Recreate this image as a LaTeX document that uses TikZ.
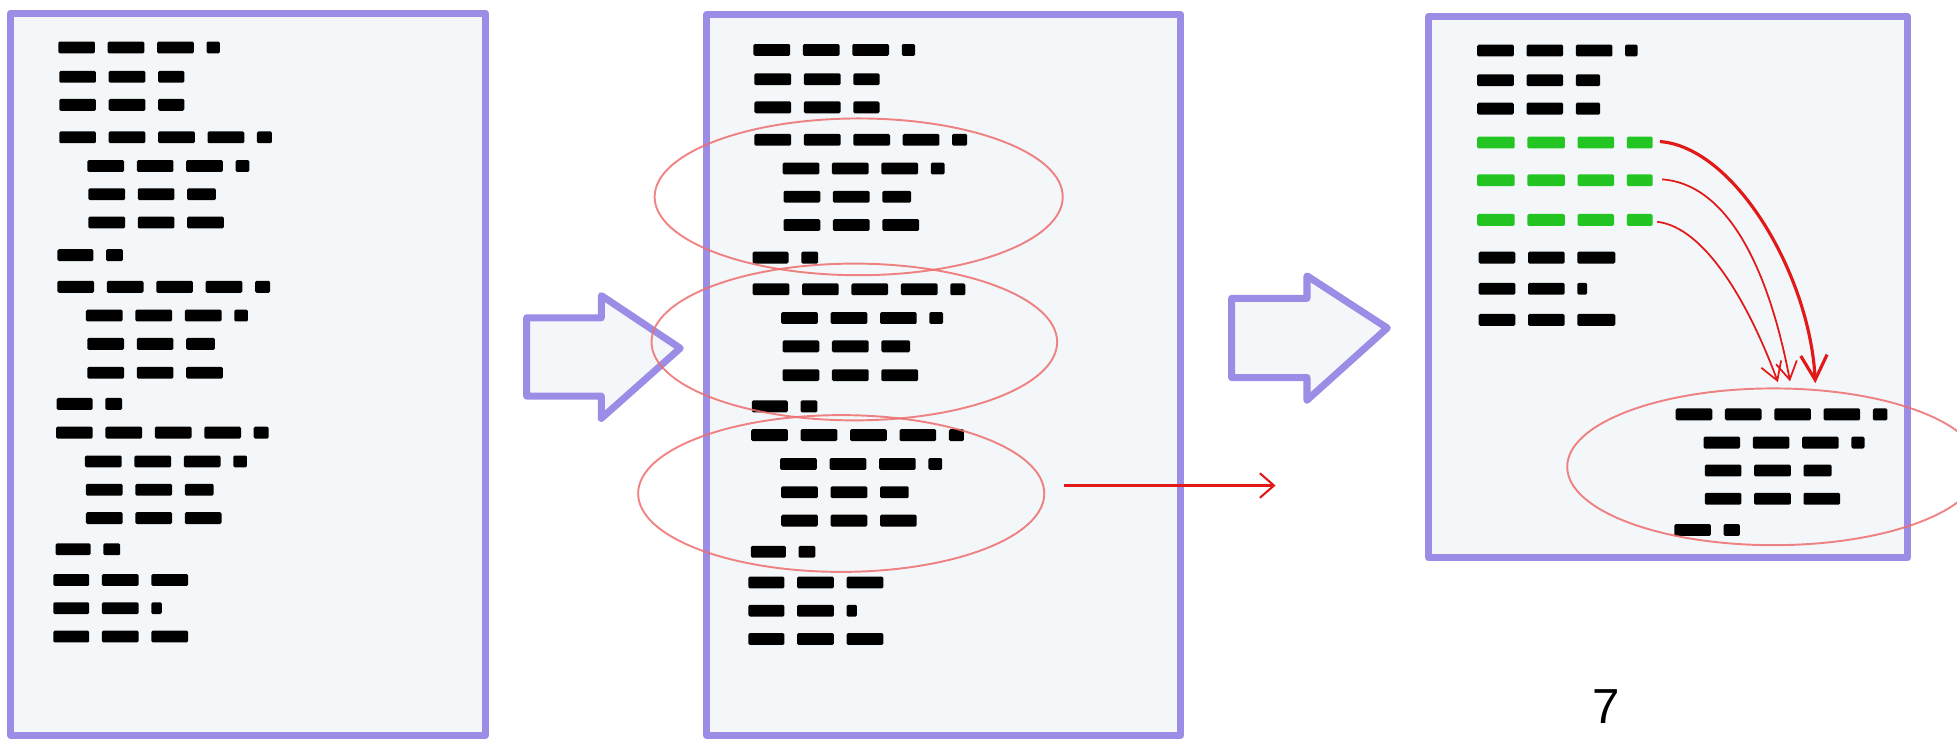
\documentclass[tikz,border=0pt]{standalone}
\usepackage{xcolor}
\usepackage{fontspec}
\setmainfont{Liberation Sans}
\usepackage{tikz}
\usetikzlibrary{shapes.geometric,arrows.meta}

\definecolor{framepurple}{RGB}{155,140,230}
\definecolor{pagefill}{RGB}{244,247,249}
\definecolor{hoopred}{RGB}{238,110,110}
\definecolor{flowred}{RGB}{225,25,25}
\definecolor{codegreen}{RGB}{34,197,34}

\newcommand{\unitpx}{0.01248cm}
% one line of code: a row of bars, #2 = start x, #3 = y, #4 = bar widths
\newcommand{\codeline}[4][black]{%
  \xdef\barx{#2}%
  \foreach \w in {#4} {
    \fill[#1, rounded corners=0.4pt] (\barx,#3-4.75) rectangle ++(\w,9.5);
    \pgfmathsetmacro{\nextx}{\barx+\w+10.2}
    \xdef\barx{\nextx}
  }%
}
% the whole listing of the first page
\newcommand{\codepage}{%
  \codeline{46.7}{38}{29.4,29.4,29.4,10.7}
  \codeline{47.5}{61.5}{29.4,29.4,21}
  \codeline{47.5}{84}{29.4,29.4,21}
  \codeline{47.5}{110}{29.4,29.4,29.4,29.4,12}
  \codeline{70}{133}{29.4,29.4,29.4,11}
  \codeline{70.8}{155.6}{29.4,29.4,23}
  \codeline{70.8}{178.3}{29.4,29.4,29.4}
  \codeline{46}{204.4}{28.8,13.5}
  \codeline{46}{229.8}{29.4,29.4,29.4,29.4,12}
  \codeline{68.9}{252.8}{29.4,29.4,29.4,11}
  \codeline{70}{275.5}{29.4,29.4,23}
  \codeline{70}{298.6}{29.4,29.4,29.4}
  \codeline{45.4}{323.6}{28.8,13.5}
  \codeline{44.9}{346.6}{29.4,29.4,29.4,29.4,12}
  \codeline{68.1}{369.7}{29.4,29.4,29.4,11}
  \codeline{68.9}{392.4}{29.4,29.4,23}
  \codeline{68.9}{415.1}{29.4,29.4,29.4}
  \codeline{44.6}{440.1}{28,13.5}
  \codeline{42.7}{464.7}{28.8,29.4,29.4}
  \codeline{42.7}{487.3}{28.8,29.4,8.3}
  \codeline{42.7}{510}{28.8,29.4,29.4}
}

\begin{document}
\begin{tikzpicture}[x=0.01248cm, y=-0.01248cm,
    sheet/.style={draw=framepurple, line width=2pt, fill=pagefill, line join=round},
    blockarrow/.style={draw=framepurple, line width=2pt, fill=pagefill, line join=round},
    hoop/.style={ellipse, draw=hoopred, draw opacity=0.85, line width=0.55pt, inner sep=0pt},
    flow/.style={draw=flowred, -{Straight Barb[length=5pt,width=6pt]}}]
    \useasboundingbox (0,0) rectangle (1568,593);
    \clip (0,0) rectangle (1568,593);

    % Original page
    \draw[sheet] (8.5,10.6) rectangle (389,589);
    \codepage

    % Page with the repeated blocks marked
    \draw[blockarrow] (422,254.6) -- (481.8,254.6) -- (481.8,236.8) -- (545,279)
        -- (481.8,335.2) -- (481.8,317.4) -- (422,317.4) -- cycle;
    \draw[sheet] (566,11.6) rectangle (946,589);
    \begin{scope}[shift={(557,2)}]
        \codepage
    \end{scope}
    \node[hoop, minimum width=327*\unitpx, minimum height=125.6*\unitpx] (e1) at (688,157.7) {};
    \node[hoop, minimum width=325*\unitpx, minimum height=125.6*\unitpx] (e2) at (684.5,274) {};
    \node[hoop, minimum width=325.4*\unitpx, minimum height=125.6*\unitpx] (e3) at (674,395.4) {};
    \coordinate (cutout) at (1022,389);
    \draw[flow, line width=0.6pt, -{Straight Barb[length=4pt,width=7pt]}] (e3.east) ++(15,-6.4) -- (cutout);

    % Page after the extraction
    \draw[blockarrow] (986.8,239) -- (1047.2,239) -- (1047.2,221) -- (1111.5,262.8)
        -- (1047.2,320.6) -- (1047.2,302.5) -- (986.8,302.5) -- cycle;
    \draw[sheet] (1144.7,13.2) rectangle (1528.5,447);
    \codeline{1183.6}{40.5}{29.3,29.3,29.3,10}
    \codeline{1183.6}{64.3}{29.3,29.3,19.5}
    \codeline{1183.6}{87}{29.3,29.3,19.5}
    \foreach \y in {114.2,144.4,176.2} {
        \codeline[codegreen]{1183.6}{\y}{30,30,29.2,20.7}
    }
    \codeline{1184.8}{206.4}{29.3,29.3,30.4}
    \codeline{1184.8}{231.4}{29.3,29.3,7.8}
    \codeline{1184.8}{256.3}{29.3,29.3,30.4}
    % extracted block
    \codeline{1342.6}{332}{29.3,29.3,29.3,29.3,11.7}
    \codeline{1364.9}{354.6}{29.3,29.3,29.3,10.5}
    \codeline{1366}{377}{29.3,29.3,22.5}
    \codeline{1366}{399.6}{29.3,29.3,29.3}
    \codeline{1341.5}{424.6}{29.3,13}
    \node[hoop, minimum width=330.6*\unitpx, minimum height=125.6*\unitpx] (e4) at (1421,374) {};

    \coordinate (g1) at (1330,113.4);
    \coordinate (g2) at (1331.7,143.7);
    \coordinate (g3) at (1327.8,177.7);
    \coordinate (t1) at (1454.5,307);
    \coordinate (t2) at (1434.2,305.5);
    \coordinate (t3) at (1424.5,306.2);
    \draw[flow, line width=0.9pt, -{Straight Barb[length=7pt,width=7.5pt]}] (g1) .. controls (1390,118) and (1450,220) .. (t1);
    \draw[flow, line width=0.5pt] (g2) .. controls (1390,148) and (1420,230) .. (t2);
    \draw[flow, line width=0.5pt] (g3) .. controls (1365,182) and (1400,240) .. (t3);

    \node[font=\fontsize{14}{16}\selectfont] (pagenum) at (1287,566) {7};
\end{tikzpicture}
\end{document}
